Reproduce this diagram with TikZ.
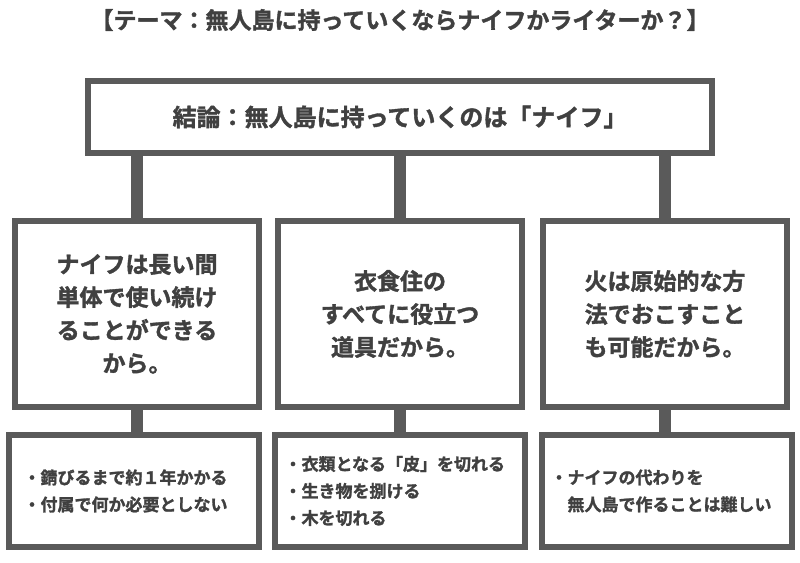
\documentclass[tikz,border=0pt]{standalone}
\usepackage{fontspec}
\setmainfont{Noto Sans CJK JP}[BoldFont={Noto Sans CJK JP Bold},BoldFeatures={FakeBold=1.5}]
\usetikzlibrary{positioning}
\definecolor{frame}{HTML}{5A5A5A}
\definecolor{ink}{HTML}{404040}
\begin{document}
\begin{tikzpicture}[
      x=1bp,y=-1bp,
      box/.style={draw=frame,line width=6bp,fill=white,inner sep=0pt,align=center,text=ink,font=\bfseries},
      mid/.style={box,minimum width=244bp,minimum height=186bp,font=\bfseries\fontsize{23bp}{33bp}\selectfont},
      low/.style={box,minimum width=250bp,minimum height=112bp,font=\bfseries\fontsize{17bp}{27bp}\selectfont}
    ]
      \useasboundingbox (0,0) rectangle (800,563);
      % Title
      \node[text=ink,font=\bfseries\fontsize{23bp}{24bp}\selectfont] (title) at (400,20) {【テーマ：無人島に持っていくならナイフかライターか？】};

      % Conclusion
      \node[box,minimum width=624bp,minimum height=72bp,font=\bfseries\fontsize{24bp}{26bp}\selectfont] (result) at (400,117) {結論：無人島に持っていくのは「ナイフ」};

      % Reasons
      \node[mid] (reasonA) at (137,314) {ナイフは長い間\\単体で使い続け\\ることができる\\から。};
      \node[mid] (reasonB) at (400,314) {衣食住の\\すべてに役立つ\\道具だから。};
      \node[mid] (reasonC) at (665,314) {火は原始的な方\\法でおこすこと\\も可能だから。};

      % Details
      \node[low] (detailA) at (134,491) {};
      \node[low] (detailB) at (400,491) {};
      \node[low] (detailC) at (667,491) {};
      \node[text=ink,font=\bfseries\fontsize{17bp}{27bp}\selectfont,align=left,anchor=west] (textA) at ([xshift=14bp]detailA.west) {・錆びるまで約１年かかる\\・付属で何か必要としない};
      \node[text=ink,font=\bfseries\fontsize{17bp}{27bp}\selectfont,align=left,anchor=west] (textB) at ([xshift=9bp]detailB.west) {・衣類となる「皮」を切れる\\・生き物を捌ける\\・木を切れる};
      \node[text=ink,font=\bfseries\fontsize{17bp}{27bp}\selectfont,align=left,anchor=west] (textC) at ([xshift=8bp]detailC.west) {・ナイフの代わりを\\\hspace*{1em}無人島で作ることは難しい};

      % Stems
      \foreach \r/\d in {reasonA/detailA,reasonB/detailB,reasonC/detailC}{
        \draw[draw=frame,line width=12bp] (result.south -| \r.north) -- (\r.north);
        \draw[draw=frame,line width=12bp] (\r.south) -- (\r.south |- \d.north);
      }
    \end{tikzpicture}
\end{document}
